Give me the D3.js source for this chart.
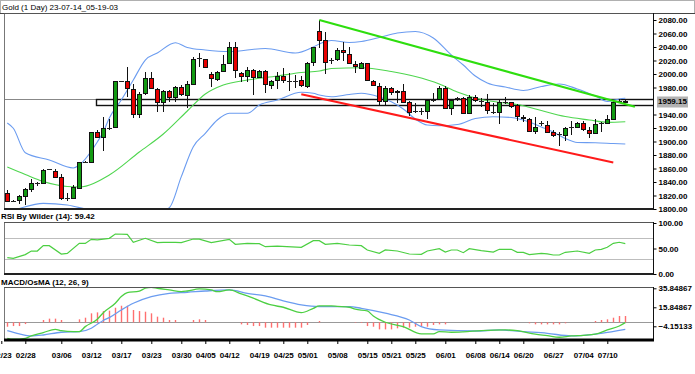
<!DOCTYPE html>
<html>
<head>
<meta charset="utf-8">
<script src="https://cdnjs.cloudflare.com/ajax/libs/d3/7.8.5/d3.min.js"></script>
<style>
  html, body { margin: 0; padding: 0; background: #fff; }
  svg { display: block; font-family: "Liberation Sans", Arial, sans-serif; }
</style>
</head>
<body>
<svg id="chart" width="695" height="374"></svg>
<script>
const title = "Gold (1 Day) 23-07-14_05-19-03";
const rsiTitle = "RSI By Wilder (14): 59.42";
const macdTitle = "MACD/OsMA (12, 26, 9)";

// daily bars: [open, high, low, close]
const candles = [
  [1823.2, 1828.1, 1809.9, 1812.3], [1812.5, 1813.0, 1812.0, 1812.3], [1813.3, 1820.7, 1806.9, 1819.3],
  [1819.8, 1831.6, 1805.9, 1829.6], [1829.6, 1844.4, 1825.7, 1838.0], [1838.0, 1840.5, 1834.6, 1838.3],
  [1838.0, 1858.8, 1837.0, 1857.8], [1859.3, 1859.5, 1859.0, 1859.3], [1856.8, 1859.3, 1846.4, 1847.9],
  [1847.9, 1851.4, 1813.3, 1815.8], [1816.8, 1823.2, 1811.9, 1816.5], [1815.8, 1835.6, 1814.8, 1832.6],
  [1831.6, 1870.1, 1830.6, 1869.6], [1870.1, 1870.4, 1869.8, 1870.0], [1870.1, 1914.6, 1869.1, 1913.6],
  [1914.6, 1917.0, 1904.7, 1906.7], [1906.7, 1936.8, 1885.9, 1919.5], [1919.5, 1933.3, 1917.0, 1919.8],
  [1921.0, 1990.1, 1919.5, 1989.6], [1990.1, 1990.3, 1989.9, 1990.0], [1989.6, 2009.9, 1966.4, 1979.8],
  [1977.8, 1985.2, 1934.3, 1941.2], [1941.2, 1972.8, 1934.3, 1970.9], [1971.4, 2002.5, 1968.9, 1993.6],
  [1993.6, 2003.5, 1977.8, 1979.8], [1978.3, 1979.8, 1944.2, 1958.0], [1958.0, 1975.8, 1944.2, 1974.3],
  [1974.3, 1975.8, 1958.0, 1965.4], [1965.4, 1982.7, 1958.0, 1981.2], [1981.2, 1983.7, 1967.9, 1970.4],
  [1968.9, 1989.6, 1950.1, 1984.7], [1985.7, 2024.7, 1984.7, 2021.7], [2023.2, 2030.6, 2010.9, 2023.0],
  [2021.7, 2022.0, 2008.4, 2009.9], [2000.0, 2003.5, 1981.2, 1993.6], [1992.1, 2004.9, 1990.1, 2003.5],
  [2004.4, 2028.1, 2003.5, 2014.8], [2015.8, 2047.9, 2014.8, 2039.5], [2039.5, 2047.9, 1993.6, 2005.9],
  [2001.0, 2003.5, 1988.6, 1997.5], [1997.5, 2010.9, 1988.6, 2005.9], [2005.9, 2006.9, 1968.9, 1996.0],
  [1995.6, 2005.9, 1993.6, 2004.9], [2004.4, 2005.9, 1971.4, 1984.7], [1983.2, 1990.6, 1977.8, 1989.6],
  [1990.6, 2003.5, 1977.8, 1997.0], [1997.0, 2008.4, 1986.2, 1990.6], [1990.1, 2001.0, 1974.8, 1990.3],
  [1990.1, 1998.5, 1978.8, 1989.9], [1990.6, 1997.0, 1980.7, 1983.7], [1982.7, 2018.3, 1978.8, 2016.8],
  [2018.3, 2040.5, 2012.0, 2039.5], [2064.0, 2080.0, 2038.0, 2051.0], [2050.4, 2062.7, 1999.5, 2018.3],
  [2020.7, 2023.2, 2014.3, 2020.5], [2021.7, 2038.0, 2019.3, 2035.6], [2035.6, 2046.9, 2019.3, 2032.1],
  [2029.6, 2040.5, 2014.3, 2015.8], [2014.8, 2019.3, 2001.0, 2012.3], [2009.4, 2018.3, 2008.4, 2015.8],
  [2015.8, 2016.8, 1989.6, 1991.1], [1989.6, 1991.1, 1982.7, 1983.7], [1982.2, 1986.2, 1953.1, 1960.0],
  [1960.0, 1982.7, 1954.1, 1978.8], [1979.8, 1981.2, 1968.9, 1972.8], [1975.3, 1976.3, 1956.5, 1973.8],
  [1975.3, 1984.7, 1956.5, 1958.0], [1958.0, 1960.0, 1938.3, 1943.2], [1945.7, 1956.5, 1941.7, 1945.5],
  [1945.2, 1949.1, 1939.3, 1945.5], [1945.2, 1961.5, 1933.3, 1961.0], [1962.0, 1971.4, 1958.0, 1962.2],
  [1963.0, 1982.7, 1961.5, 1978.8], [1978.8, 1982.7, 1948.1, 1949.1], [1949.1, 1963.0, 1939.3, 1961.5],
  [1964.0, 1966.4, 1960.0, 1964.2], [1964.0, 1966.4, 1940.2, 1941.7], [1941.7, 1968.9, 1940.2, 1965.4],
  [1966.4, 1968.9, 1958.0, 1961.5], [1960.0, 1964.0, 1951.6, 1960.2], [1958.0, 1969.9, 1940.2, 1946.7],
  [1944.2, 1956.5, 1941.2, 1944.4], [1944.2, 1961.5, 1925.4, 1958.0], [1958.0, 1966.4, 1955.1, 1958.2],
  [1958.0, 1959.0, 1949.1, 1952.6], [1954.1, 1955.1, 1930.4, 1937.8], [1936.8, 1939.3, 1929.4, 1934.3],
  [1932.8, 1934.3, 1913.6, 1916.0], [1916.0, 1936.8, 1910.6, 1921.0], [1926.9, 1930.4, 1923.0, 1927.1],
  [1924.4, 1930.4, 1912.1, 1914.6], [1914.6, 1917.0, 1907.2, 1909.6], [1910.6, 1914.6, 1893.8, 1910.8],
  [1909.6, 1922.0, 1900.7, 1920.5], [1922.0, 1930.4, 1909.6, 1922.2], [1922.0, 1929.4, 1919.5, 1926.9],
  [1926.9, 1930.4, 1916.0, 1918.0], [1917.0, 1922.0, 1904.7, 1912.1], [1912.1, 1933.3, 1910.6, 1926.0],
  [1926.9, 1928.4, 1913.6, 1927.1], [1926.9, 1939.3, 1925.4, 1933.3], [1933.3, 1960.0, 1931.9, 1959.0],
  [1960.0, 1963.0, 1956.5, 1960.2], [1959.5, 1962.0, 1957.0, 1959.15]
];

// bollinger bands, [bar index, price]
const upperBand = [
  [0, 1927.4], [1, 1919.6], [3, 1883.4], [7, 1872.6], [11, 1860.7], [12, 1865.2], [15, 1899.3],
  [16, 1914.1], [17, 1934.8], [19, 1961.5], [21, 1991.1], [23, 2020.7], [25, 2031.1], [28, 2046.4],
  [30, 2039.3], [33, 2035.6], [37, 2033.3], [43, 2037.8], [48, 2031.1], [51, 2040.0], [52, 2044.4],
  [54, 2049.6], [57, 2046.7], [59, 2048.1], [62, 2054.1], [65, 2060.7], [68, 2063.0], [71, 2053.3],
  [74, 2028.1], [76, 2013.3], [78, 1997.0], [80, 1986.7], [83, 1980.7], [86, 1975.6], [89, 1981.5],
  [92, 1985.2], [95, 1977.8], [98, 1967.4], [100, 1959.3], [102, 1963.0], [103, 1964.0]
];
const middleBand = [
  [0, 1862.2], [3, 1851.1], [6, 1840.7], [10, 1833.3], [12, 1832.6], [17, 1850.4], [22, 1884.4],
  [26, 1911.1], [30, 1945.2], [33, 1970.4], [36, 1983.7], [40, 1991.1], [45, 1997.0], [49, 2002.2],
  [52, 2004.4], [54, 2008.1], [59, 2009.3], [64, 2003.7], [68, 1996.3], [72, 1985.2], [75, 1973.3],
  [79, 1962.2], [82, 1958.1], [86, 1953.0], [89, 1945.9], [93, 1937.0], [97, 1931.9], [100, 1928.4],
  [103, 1929.3]
];
const lowerBand = [
  [0, 1795.0], [2, 1800.7], [6, 1808.4], [10, 1805.9], [13, 1800.0], [16, 1794.0], [20, 1789.0],
  [24, 1792.0], [27, 1802.0], [29, 1847.9], [31, 1892.3], [33, 1912.1], [35, 1931.9], [37, 1941.8],
  [40, 1941.8], [42, 1954.1], [45, 1961.5], [49, 1972.9], [51, 1971.4], [52, 1968.9], [54, 1966.4],
  [57, 1969.6], [59, 1971.4], [62, 1965.9], [64, 1958.9], [66, 1948.1], [68, 1933.3], [70, 1924.4],
  [72, 1923.4], [75, 1925.2], [78, 1934.1], [81, 1936.7], [84, 1935.6], [87, 1928.9], [89, 1921.5],
  [91, 1914.1], [93, 1904.4], [95, 1898.5], [98, 1898.1], [101, 1897.0], [103, 1896.3]
];

// drawn objects
const greenTrend = [[52, 2080.0], [104.6, 1951.5]];
const redTrend = [[49, 1970.0], [101, 1869.0]];
const boxStartIdx = 15;
const boxTop = 1962.5;
const boxBottom = 1953.5;
const lastPrice = 1959.15;

const rsi = [
  [0, 32], [1, 30.7], [3, 38], [4, 45], [5, 45], [6, 55.6], [7, 55.6], [9, 39.2], [10, 40.5],
  [12, 60], [13, 60], [14, 68], [15, 67], [17, 70], [18, 78.4], [20, 77.8], [21, 62], [23, 70],
  [25, 61.4], [26, 62], [28, 62], [29, 61.4], [31, 68.6], [32, 68.3], [34, 61.4], [37, 68],
  [38, 58.2], [40, 60], [42, 59.5], [43, 53.6], [45, 54.5], [49, 52.3], [51, 65.3], [52, 65.3],
  [53, 58.2], [55, 60.1], [57, 56.9], [59, 55.5], [60, 47.1], [62, 40.6], [63, 47.1], [65, 45.1],
  [67, 39.2], [69, 38.6], [70, 45.1], [72, 49.6], [73, 43.1], [74, 47.1], [75, 47.1], [76, 41.8],
  [77, 49.6], [79, 45.7], [81, 43.1], [82, 48.4], [84, 48.4], [85, 42.5], [86, 42.5], [87, 37.9],
  [89, 40.6], [90, 39.5], [91, 37.3], [92, 37.3], [93, 42.5], [95, 45.1], [97, 40.6], [98, 47.1],
  [99, 48.4], [100, 52.4], [101, 60.1], [102, 62.2], [103, 59.42]
];
const rsiLevels = [70, 30];

const macdLine = [
  [0, -16.8], [1, -17.8], [3, -16.8], [4, -14.3], [6, -10.8], [8, -7.3], [9, -8.7], [11, -9.8],
  [12, -9.8], [13, -4.5], [15, 3.3], [16, 10.2], [18, 20.1], [19, 27.1], [20, 31.3], [22, 33],
  [23, 35.9], [24, 36.9], [25, 35.9], [27, 34.1], [29, 32.3], [30, 33], [32, 35.2], [34, 34.1],
  [35, 32.3], [37, 34.1], [39, 29.9], [41, 25.4], [44, 18.3], [46, 15.9], [49, 10.2], [51, 14.8],
  [52, 17.3], [54, 17.3], [55, 16.8], [57, 15.9], [58, 13.8], [60, 12], [61, 6.7], [63, 0.1],
  [66, -4.5], [69, -12.2], [71, -12.2], [72, -9.8], [74, -10.4], [76, -10], [79, -8.7], [83, -8],
  [85, -8.7], [88, -12.5], [90, -14], [92, -15.7], [94, -14.3], [96, -13.6], [98, -12.5],
  [100, -8], [102, -3.8], [103, -0.3]
];
const signalLine = [
  [0, -8.7], [2, -12.2], [4, -14.3], [6, -13.3], [9, -10.4], [12, -9.8], [14, -6.2], [15, -2],
  [16, 2], [17, 5], [19, 13], [21, 20.1], [24, 27.1], [27, 30.6], [30, 31.7], [33, 33], [37, 34.1],
  [40, 30.6], [43, 27.8], [46, 22.5], [49, 18.3], [52, 16.5], [57, 16.5], [59, 14.8], [63, 9.6],
  [67, 2.5], [69, -4.5], [72, -8], [78, -9.1], [82, -8], [86, -9.8], [90, -11.5], [94, -14.3],
  [99, -11.5], [103, -7.3]
];
const osma = [
  -4.6, -3.9, -3.9, -1.8, 0, 0, 2.5, 3.9, 3.9, 2.5, 0, 0, 3.2, 4.9, 9.5, 10.5, 11.9, 12.3, 15.4,
  17.5, 17.5, 13, 11.9, 11.2, 9.5, 6, 4.9, 2.5, 2.5, 0, 0, 2.5, 3.2, 2.5, 0, 0, 0, 0, 0, -2.1,
  -2.8, -3.9, -3.9, -5.6, -5.6, -5.6, -5.6, -5.6, -5.6, -5.6, -2.8, 0, 1.4, 0, 0, 0, 0, 0, -0.5,
  -0.7, -3.9, -4.6, -7.4, -7.4, -7.4, -6.3, -5.6, -5.6, -4.6, -3.9, -4.6, -2.8, -2.1, -2.1, 0, 0,
  0, 0, 0, 0, 0, 0, 0, 0, 0, 0, 0, -1, -2.1, -2.1, -2.1, -2.1, -2.1, -1, 0, 0, 0, 0, 1.4, 2.5,
  3.2, 4.9, 6.7, 6.7
];

const priceTicks = [2080, 2060, 2040, 2020, 2000, 1980, 1940, 1920, 1900, 1880, 1860, 1840, 1820, 1800];
const rsiTicks = [100, 50, 0];
const macdTicks = [35.84867, 15.84867, -4.15133];
const dateLabels = ["02/23", "02/28", "03/06", "03/12", "03/17", "03/23", "03/30", "04/05", "04/12",
  "04/19", "04/25", "05/01", "05/08", "05/15", "05/21", "05/25", "06/01", "06/08", "06/14", "06/20",
  "06/27", "07/04", "07/10"];
const dateLabelIdx = [-1, 3, 9, 14, 19, 24, 29, 33, 37, 42, 46, 50, 55, 60, 64, 68, 73, 78, 82, 86, 91, 96, 100];

const svg = d3.select("#chart");
const left = 4;
const right = 653;
const panels = {
  main: { top: 13, bottom: 209 },
  rsi: { top: 222, bottom: 274 },
  macd: { top: 287, bottom: 340 },
};

const x = d3.scaleLinear().domain([0, candles.length - 1]).range([7.3, 625.3]);
const yPrice = d3.scaleLinear().domain([1800, 2080]).range([209, 20]);
const yRsi = d3.scaleLinear().domain([0, 100]).range([274, 223]);
const yMacd = d3.scaleLinear().domain([-4.15133, 35.84867]).range([326.3, 288.3]);

svg.append("rect").attr("width", 695).attr("height", 374).attr("fill", "#fff");

const defs = svg.append("defs");
Object.entries(panels).forEach(([key, p]) => {
  defs.append("clipPath").attr("id", `clip-${key}`)
    .append("rect")
    .attr("x", left).attr("y", p.top)
    .attr("width", right - left).attr("height", p.bottom - p.top);
});

// title bar
svg.append("rect")
  .attr("x", 0.5).attr("y", 0.5).attr("width", 694).attr("height", 13)
  .attr("fill", "#fff").attr("stroke", "#b0b0b0");
svg.append("line")
  .attr("x1", 0).attr("x2", 695).attr("y1", 13.5).attr("y2", 13.5)
  .attr("stroke", "#444");
svg.append("text")
  .attr("x", 2).attr("y", 10)
  .style("font-size", "8px")
  .attr("fill", "#000")
  .text(title);

function frame(p) {
  svg.append("line")
    .attr("x1", left + 0.5).attr("x2", left + 0.5).attr("y1", p.top).attr("y2", p.bottom)
    .attr("stroke", "#777");
  svg.append("line")
    .attr("x1", left).attr("x2", right).attr("y1", p.top + 0.5).attr("y2", p.top + 0.5)
    .attr("stroke", "#555");
  svg.append("line")
    .attr("x1", left).attr("x2", right + 1).attr("y1", p.bottom).attr("y2", p.bottom)
    .attr("stroke", "#222").attr("stroke-width", 2);
  svg.append("line")
    .attr("x1", right + 0.5).attr("x2", right + 0.5).attr("y1", p.top).attr("y2", p.bottom)
    .attr("stroke", "#111");
}

// ---- main price panel
const main = svg.append("g").attr("clip-path", "url(#clip-main)");

const priceLine = d3.line()
  .x((d) => x(d[0]))
  .y((d) => yPrice(d[1]))
  .curve(d3.curveMonotoneX);

main.append("line")
  .attr("x1", left).attr("x2", right)
  .attr("y1", Math.round(yPrice(boxTop)) + 0.5).attr("y2", Math.round(yPrice(boxTop)) + 0.5)
  .attr("stroke", "#888");

main.append("rect")
  .attr("x", Math.round(x(boxStartIdx)) - 0.5)
  .attr("y", Math.round(yPrice(boxTop)) + 0.5)
  .attr("width", right + 10 - x(boxStartIdx))
  .attr("height", Math.round(yPrice(boxBottom)) - Math.round(yPrice(boxTop)))
  .attr("fill", "none")
  .attr("stroke", "#111")
  .attr("stroke-width", 1.4);

[upperBand, lowerBand].forEach((band) => {
  main.append("path")
    .datum(band)
    .attr("d", priceLine)
    .attr("fill", "none")
    .attr("stroke", "#6b9cf0")
    .attr("stroke-width", 1.1);
});
main.append("path")
  .datum(middleBand)
  .attr("d", priceLine)
  .attr("fill", "none")
  .attr("stroke", "#4fd64f")
  .attr("stroke-width", 1.1);

const bars = main.append("g").attr("shape-rendering", "crispEdges");
candles.forEach((c, i) => {
  const [o, h, l, cl] = c;
  const cx = Math.round(x(i));
  bars.append("line")
    .attr("x1", cx + 0.5).attr("x2", cx + 0.5)
    .attr("y1", Math.round(yPrice(h))).attr("y2", Math.round(yPrice(l)))
    .attr("stroke", "#111");
  const top = Math.round(yPrice(Math.max(o, cl)));
  const bot = Math.round(yPrice(Math.min(o, cl)));
  if (bot - top < 1) {
    bars.append("line")
      .attr("x1", cx - 2).attr("x2", cx + 3)
      .attr("y1", top + 0.5).attr("y2", top + 0.5)
      .attr("stroke", "#222");
  } else {
    bars.append("rect")
      .attr("x", cx - 1.5).attr("y", top + 0.5)
      .attr("width", 4).attr("height", bot - top)
      .attr("fill", cl >= o ? "#129a12" : "#e80000")
      .attr("stroke", "#111");
  }
});

const trendLine = d3.line().x((d) => x(d[0])).y((d) => yPrice(d[1]));
main.append("path").datum(greenTrend).attr("d", trendLine)
  .attr("stroke", "#2ede0e").attr("stroke-width", 2).attr("fill", "none");
main.append("path").datum(redTrend).attr("d", trendLine)
  .attr("stroke", "#ff1a1a").attr("stroke-width", 2).attr("fill", "none");

frame(panels.main);

const priceAxis = svg.append("g")
  .attr("transform", `translate(${right + 0.5},0)`)
  .call(d3.axisRight(yPrice).tickValues(priceTicks).tickFormat(d3.format(".2f")).tickSize(3).tickPadding(2));

svg.append("rect")
  .attr("x", 657).attr("y", Math.round(yPrice(lastPrice)) - 5.5)
  .attr("width", 31).attr("height", 11)
  .attr("fill", "#b2b2b2");
svg.append("text")
  .attr("x", 658).attr("y", yPrice(lastPrice))
  .attr("dy", "0.35em")
  .style("font-size", "8px").style("font-weight", "bold")
  .attr("fill", "#000")
  .text(lastPrice.toFixed(2));

// ---- RSI panel
svg.append("text")
  .attr("x", 1).attr("y", 218.5)
  .style("font-size", "8px").style("font-weight", "bold")
  .text(rsiTitle);

const rsiG = svg.append("g").attr("clip-path", "url(#clip-rsi)");
rsiLevels.forEach((lv) => {
  rsiG.append("line")
    .attr("x1", left).attr("x2", right)
    .attr("y1", Math.round(yRsi(lv)) + 0.5).attr("y2", Math.round(yRsi(lv)) + 0.5)
    .attr("stroke", "#bdbdbd");
});
rsiG.append("path")
  .datum(rsi)
  .attr("d", d3.line().x((d) => x(d[0])).y((d) => yRsi(d[1])))
  .attr("fill", "none")
  .attr("stroke", "#4ccf42")
  .attr("stroke-width", 1.2);

frame(panels.rsi);

const rsiAxis = svg.append("g")
  .attr("transform", `translate(${right + 0.5},0)`)
  .call(d3.axisRight(yRsi).tickValues(rsiTicks).tickFormat(d3.format(".2f")).tickSize(3).tickPadding(2));

// ---- MACD panel
svg.append("text")
  .attr("x", 1).attr("y", 285)
  .style("font-size", "8px").style("font-weight", "bold")
  .text(macdTitle);

const macdG = svg.append("g").attr("clip-path", "url(#clip-macd)");
macdG.append("line")
  .attr("x1", left).attr("x2", right)
  .attr("y1", Math.round(yMacd(0)) + 0.5).attr("y2", Math.round(yMacd(0)) + 0.5)
  .attr("stroke", "#999");

macdG.append("g")
  .selectAll("line")
  .data(osma.map((v, i) => [i, v]).filter((d) => d[1] !== 0))
  .enter()
  .append("line")
  .attr("x1", (d) => Math.round(x(d[0])) + 0.5)
  .attr("x2", (d) => Math.round(x(d[0])) + 0.5)
  .attr("y1", yMacd(0))
  .attr("y2", (d) => yMacd(d[1]))
  .attr("stroke", "#ff6f6f")
  .attr("stroke-width", 1.4);

const macdPath = d3.line()
  .x((d) => x(d[0]))
  .y((d) => yMacd(d[1]))
  .curve(d3.curveMonotoneX);

macdG.append("path").datum(signalLine).attr("d", macdPath)
  .attr("fill", "none").attr("stroke", "#6b9cf0").attr("stroke-width", 1.3);
macdG.append("path").datum(macdLine).attr("d", macdPath)
  .attr("fill", "none").attr("stroke", "#4ccf42").attr("stroke-width", 1.3);

frame(panels.macd);
svg.append("line")
  .attr("x1", left).attr("x2", right + 1).attr("y1", 340).attr("y2", 340)
  .attr("stroke", "#000").attr("stroke-width", 3);

const macdAxis = svg.append("g")
  .attr("transform", `translate(${right + 0.5},0)`)
  .call(d3.axisRight(yMacd).tickValues(macdTicks).tickFormat(d3.format(".5f")).tickSize(3).tickPadding(2));

const dateAxis = svg.append("g")
  .attr("transform", "translate(0,341)")
  .call(d3.axisBottom(x)
    .tickValues(dateLabelIdx)
    .tickFormat((d, k) => dateLabels[k])
    .tickSize(3)
    .tickPadding(8));

[priceAxis, rsiAxis, macdAxis, dateAxis].forEach((ax) => {
  ax.select(".domain").remove();
  ax.selectAll(".tick line").attr("stroke", "#000");
  ax.selectAll("text")
    .style("font-family", "'Liberation Sans', Arial, sans-serif")
    .style("font-size", "8px")
    .style("font-weight", "bold")
    .attr("fill", "#000");
});
</script>
</body>
</html>
